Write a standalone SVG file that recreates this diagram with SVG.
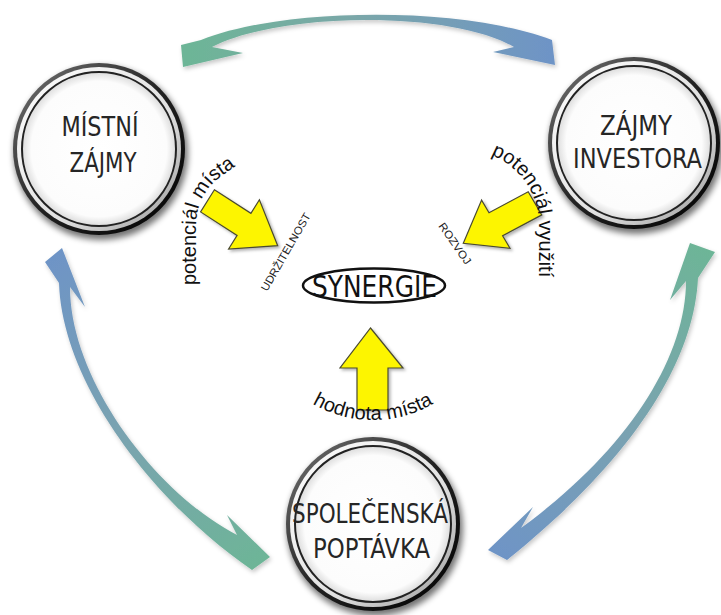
<svg xmlns="http://www.w3.org/2000/svg" width="721" height="615" viewBox="0 0 721 615">
  <defs>
    <style>
      .lbl { font-family: "Liberation Sans Narrow", "DejaVu Sans Condensed", "Liberation Sans", sans-serif; font-size: 27px; fill: #262626; text-anchor: middle; }
      .curv { font-family: "Liberation Sans", Arial, sans-serif; font-size: 20px; fill: #111; }
      .small { font-family: "Liberation Sans", Arial, sans-serif; font-size: 11px; fill: #222; }
      .yarrow { fill: #fdf500; stroke: #4a4a30; stroke-width: 1.2; stroke-linejoin: miter; filter: url(#ysh); }
      .conn { filter: url(#csh); }
    </style>
    <filter id="blur" x="-20%" y="-20%" width="140%" height="140%">
      <feGaussianBlur stdDeviation="3"/>
    </filter>
    <filter id="csh" x="-10%" y="-10%" width="130%" height="130%">
      <feDropShadow dx="1.5" dy="2.5" stdDeviation="2" flood-color="#000" flood-opacity="0.22"/>
    </filter>
    <filter id="ysh" x="-20%" y="-20%" width="140%" height="140%">
      <feDropShadow dx="2" dy="2" stdDeviation="1.5" flood-color="#000" flood-opacity="0.3"/>
    </filter>
    <linearGradient id="rimOuter" x1="0" y1="0" x2="1" y2="1">
      <stop offset="0" stop-color="#777"/>
      <stop offset="0.5" stop-color="#222"/>
      <stop offset="1" stop-color="#000"/>
    </linearGradient>
    <linearGradient id="rimBand" x1="0" y1="0" x2="1" y2="1">
      <stop offset="0" stop-color="#fff"/>
      <stop offset="0.6" stop-color="#e0e0e0"/>
      <stop offset="1" stop-color="#9a9a9a"/>
    </linearGradient>
    <radialGradient id="face" cx="0.5" cy="0.5" r="0.5">
      <stop offset="0" stop-color="#fff"/>
      <stop offset="0.88" stop-color="#fcfcfc"/>
      <stop offset="1" stop-color="#dcdcdc"/>
    </radialGradient>
    <linearGradient id="gTop" gradientUnits="userSpaceOnUse" x1="190" y1="40" x2="550" y2="40">
      <stop offset="0" stop-color="#6db597"/>
      <stop offset="0.45" stop-color="#7aa7a8"/>
      <stop offset="1" stop-color="#6e94c6"/>
    </linearGradient>
    <linearGradient id="gLeft" gradientUnits="userSpaceOnUse" x1="55" y1="255" x2="260" y2="565">
      <stop offset="0" stop-color="#6e94c6"/>
      <stop offset="0.5" stop-color="#7aa3b0"/>
      <stop offset="1" stop-color="#6db597"/>
    </linearGradient>
    <linearGradient id="gRight" gradientUnits="userSpaceOnUse" x1="700" y1="245" x2="495" y2="555">
      <stop offset="0" stop-color="#6db597"/>
      <stop offset="0.5" stop-color="#7aa3b0"/>
      <stop offset="1" stop-color="#6e94c6"/>
    </linearGradient>
    <path id="pLeft" d="M 196 285 L 196 225 A 60 60 0 0 1 221.6 175.9 L 270 142"/>
    <path id="pRight" d="M 491 155 A 75 75 0 0 1 539 225 L 539 310"/>
    <path id="pBottom" d="M 298 393.7 A 120 120 0 0 0 448 393.7"/>
  </defs>

  <rect width="721" height="615" fill="#fff"/>

  <g id="connectors">
    <path class="conn" fill="url(#gTop)" d="M 183 67 L 243 53 L 212 47 C 280 12 450 10 514 47 L 493 52 L 555 65 L 552 40 C 460 5 280 8 201 40 L 181 45 Z"/>
    <path class="conn" fill="url(#gLeft)" d="M 45 262 L 62 248 L 85 307 L 70 287 C 70 378 153 491 237 535 L 227 515 L 270 557 L 252 570 C 148 498 62 380 59 283 Z"/>
    <path class="conn" fill="url(#gRight)" d="M 690 243 L 715 252 L 698 278 C 694 362 633 459 507 560 L 488 550 L 533 507 L 521 528 C 627 451 686 358 686 281 L 670 300 Z"/>
  </g>

  <g id="n-mistni-zajmy">
    <circle cx="101" cy="153" r="87" fill="#000" opacity="0.55" filter="url(#blur)"/>
    <circle cx="99" cy="149" r="86" fill="url(#rimOuter)"/>
    <circle cx="99" cy="149" r="82" fill="url(#rimBand)"/>
    <circle cx="99" cy="149" r="77" fill="url(#face)" stroke="#222" stroke-width="2"/>
    <text class="lbl" x="100" y="136" textLength="77" lengthAdjust="spacingAndGlyphs">MÍSTNÍ</text>
    <text class="lbl" x="103" y="172" textLength="67" lengthAdjust="spacingAndGlyphs">ZÁJMY</text>
  </g>

  <g id="n-zajmy-investora">
    <circle cx="636" cy="147" r="87" fill="#000" opacity="0.55" filter="url(#blur)"/>
    <circle cx="634" cy="143" r="86" fill="url(#rimOuter)"/>
    <circle cx="634" cy="143" r="82" fill="url(#rimBand)"/>
    <circle cx="634" cy="143" r="77" fill="url(#face)" stroke="#222" stroke-width="2"/>
    <text class="lbl" x="636" y="135" textLength="72" lengthAdjust="spacingAndGlyphs">ZÁJMY</text>
    <text class="lbl" x="637.5" y="168" textLength="129" lengthAdjust="spacingAndGlyphs">INVESTORA</text>
  </g>

  <g id="n-spolecenska-poptavka">
    <circle cx="375" cy="528" r="88" fill="#000" opacity="0.55" filter="url(#blur)"/>
    <circle cx="373" cy="524" r="87" fill="url(#rimOuter)"/>
    <circle cx="373" cy="524" r="83" fill="url(#rimBand)"/>
    <circle cx="373" cy="524" r="78" fill="url(#face)" stroke="#222" stroke-width="2"/>
    <text class="lbl" x="370" y="523" textLength="156" lengthAdjust="spacingAndGlyphs">SPOLEČENSKÁ</text>
    <text class="lbl" x="371.5" y="558" textLength="117" lengthAdjust="spacingAndGlyphs">POPTÁVKA</text>
  </g>

  <g id="n-synergie">
    <ellipse cx="374" cy="285.5" rx="71" ry="17" fill="#fff" stroke="#111" stroke-width="2.5"/>
    <text x="374.5" y="297" font-family="'Liberation Sans Narrow','DejaVu Sans Condensed','Liberation Sans',sans-serif" font-size="30" fill="#111" text-anchor="middle" textLength="125" lengthAdjust="spacingAndGlyphs">SYNERGIE</text>
  </g>

  <g id="a-potencial-mista">
    <polygon class="yarrow" points="214.4,189.8 250.9,213.3 259.4,199.7 277.7,245.7 228.6,249 237.1,235.4 200.6,211.9"/>
    <text class="curv"><textPath href="#pLeft">potenciál místa</textPath></text>
    <text class="small" transform="translate(267,292) rotate(-60)" textLength="88" lengthAdjust="spacingAndGlyphs">UDRŽITELNOST</text>
  </g>

  <g id="a-potencial-vyuziti">
    <polygon class="yarrow" points="528.2,191.7 541.8,214.9 502.6,235.8 510,248.3 463.3,243.3 481.6,200.1 489,212.7"/>
    <text class="curv"><textPath href="#pRight">potenciál využití</textPath></text>
    <text class="small" transform="translate(438,226) rotate(55)" textLength="48" lengthAdjust="spacingAndGlyphs">ROZVOJ</text>
  </g>

  <g id="a-hodnota-mista">
    <polygon class="yarrow" points="370.5,328 403,368 388,368 388,410 357,410 357,368 340,368"/>
    <text class="curv" font-size="21" text-anchor="middle"><textPath href="#pBottom" startOffset="50%">hodnota místa</textPath></text>
  </g>
</svg>
